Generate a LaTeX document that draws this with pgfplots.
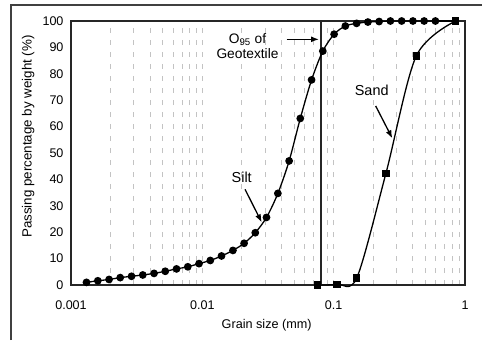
\documentclass[border=0pt]{standalone}
\usepackage{fontspec}
\setmainfont{Liberation Sans}
\usepackage{pgfplots}
\pgfplotsset{compat=1.18}
\usetikzlibrary{arrows.meta}
\definecolor{gridgray}{RGB}{195,195,195}
\begin{document}
\begin{tikzpicture}[x=1bp,y=1bp]
\path[use as bounding box] (0,0) rectangle (482,340);
\draw[line width=1.5bp, color=black!75] (11,0) -- (11,335) -- (482,335);
\begin{axis}[
  at={(71bp,55bp)}, anchor=south west,
  scale only axis, width=394bp, height=264bp,
  xmode=log, xmin=0.001, xmax=1, ymin=0, ymax=100,
  ytick={0,10,...,100},
  xtick={0.001,0.01,0.1,1}, xticklabels={0.001,0.01,0.1,1},
  major tick length=0pt, minor tick length=0pt,
  xmajorgrids, xminorgrids,
  grid style={gridgray, line width=0.8bp, dash pattern=on 5bp off 7bp},
  major grid style={gridgray, line width=0.8bp, dash pattern=on 5bp off 7bp},
  minor grid style={gridgray, line width=0.8bp, dash pattern=on 5bp off 7bp},
  axis line style={line width=1.4bp, black!85},
  ticklabel style={font=\fontsize{12.6}{14}\selectfont},
  /pgf/number format/assume math mode=true,
  xticklabel style={yshift=-12bp},
  yticklabel style={xshift=-4bp},
  xlabel={Grain size (mm)},
  ylabel={Passing percentage by weight (\%)},
  xlabel style={font=\fontsize{12.7}{14}\selectfont, at={(axis description cs:0.4967,-0.1515)}, anchor=center},
  ylabel style={font=\fontsize{13.4}{15}\selectfont, at={(axis description cs:-0.109,0.5625)}, anchor=center},
  clip=false,
]
\addplot[line width=1.5bp, black!85] coordinates {(0.08,0) (0.08,100)};
\addplot[smooth, line width=1.3bp, black, mark=*, mark size=3.2bp] coordinates {
(0.001312,1.0) (0.00160,1.6) (0.00195,2.1) (0.00237,2.8) (0.00289,3.3)
(0.00352,3.8) (0.00429,4.4) (0.00522,5.2) (0.00636,6.1) (0.00775,6.9)
(0.00944,8.1) (0.0115,9.3) (0.0140,11.0) (0.0171,13.1) (0.0208,15.8)
(0.0253,19.8) (0.0308,25.6) (0.0376,34.7) (0.0458,47.0) (0.0557,63.1)
(0.0679,77.7) (0.0827,88.6) (0.1008,95.0) (0.1227,98.1) (0.1495,99.1)
(0.1822,99.6) (0.2219,99.8) (0.2703,100) (0.3293,100) (0.4011,100)
(0.4886,100) (0.5951,100)};
\addplot[line width=1.3bp, black] coordinates {(0.5951,100) (0.85,100)};
\addplot[smooth, line width=1.3bp, black, mark=square*, mark size=3bp] coordinates {
(0.075,0) (0.106,0.3) (0.15,2.7) (0.25,42.3) (0.425,86.7) (0.85,100)};
\end{axis}
\node[align=center, font=\fontsize{13.8}{15}\selectfont, inner sep=0pt] at (247.5,294) {O\textsubscript{95} of\\Geotextile};
\draw[line width=1.3bp, -{Latex[length=8bp,width=6bp]}] (286.7,300.7) -- (319,300.7);
\node[font=\fontsize{14.5}{15}\selectfont] at (371.7,250) {Sand};
\draw[line width=1.3bp, -{Latex[length=8bp,width=6bp]}] (375.7,234) -- (392.3,201.7);
\node[font=\fontsize{14.5}{15}\selectfont] at (241.7,162.5) {Silt};
\draw[line width=1.3bp, -{Latex[length=8bp,width=6bp]}] (245,150.7) -- (261.7,117.7);
\end{tikzpicture}
\end{document}
